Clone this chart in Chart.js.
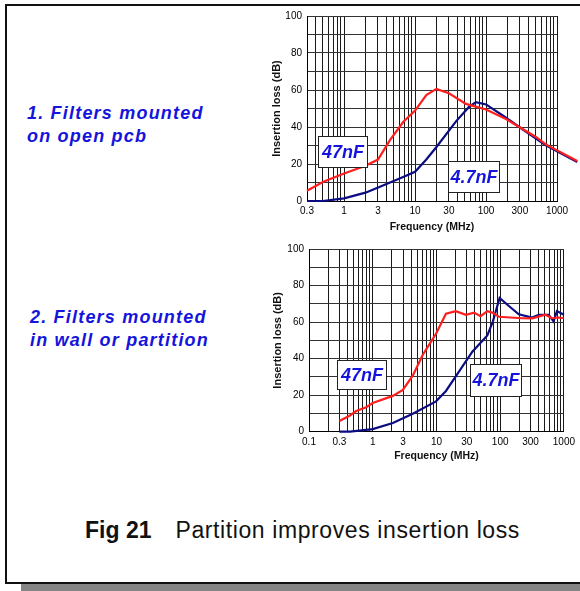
<!DOCTYPE html>
<html>
<head>
<meta charset="utf-8">
<script src="https://cdn.jsdelivr.net/npm/chart.js@4/dist/chart.umd.min.js"></script>
<style>
  body { margin: 0; width: 580px; height: 591px; overflow: hidden; position: relative; background: #fff;
         font-family: "Liberation Sans", Arial, sans-serif; }
  #frame { position: absolute; left: 5px; top: 4px; width: 640px; height: 580px; box-sizing: border-box;
           border: 2px solid #111; }
  #shadow { position: absolute; left: 21px; top: 584px; width: 600px; height: 7px; background: #858585; }
  .note { position: absolute; color: #1414dc; font-weight: bold; font-style: italic; font-size: 18px;
          line-height: 23px; letter-spacing: 1.2px; white-space: nowrap; }
  #caption { position: absolute; left: 85px; top: 519px; font-size: 23px; line-height: 22px; color: #111; white-space: nowrap; }
  #caption b { margin-right: 24px; }
  #caption span { letter-spacing: 0.6px; }
  canvas { position: absolute; }
</style>
</head>
<body>
<div id="frame"></div>
<div id="shadow"></div>
<div class="note" style="left:27px;top:102px">1. Filters mounted<br>on open pcb</div>
<div class="note" style="left:30px;top:306px">2. Filters mounted<br>in wall or partition</div>
<div id="caption"><b>Fig 21</b><span>Partition improves insertion loss</span></div>
<canvas id="topChart" width="310" height="230" style="left:270px;top:5px"></canvas>
<canvas id="botChart" width="310" height="230" style="left:270px;top:238px"></canvas>
<script>
// 1. filters mounted on open pcb (curves run on past 1000 MHz, off the right edge)
var topFreq47 = [0.3, 0.51, 1, 2, 3, 4.4, 6.8, 10, 14.4, 20, 30, 52, 100, 191, 294, 505, 695, 1930];
var topLoss47 = [5.5, 10.4, 14.9, 19, 22.4, 32.8, 42.7, 48.9, 57.3, 60.6, 58.2, 52.5, 49.5, 44.3, 40, 34.6, 30.6, 21.6];
var topFreq4n7 = [0.3, 0.5, 1, 2, 3.2, 6.8, 10, 14.4, 20, 38, 58, 72, 100, 172, 294, 505, 695, 1930];
var topLoss4n7 = [0, 0, 1.4, 4.5, 7.7, 13, 15.8, 22.4, 29.2, 43.2, 51, 53.4, 52.2, 46.2, 40, 33.7, 30.1, 21.1];

// 2. filters mounted in wall or partition
var botFreq47 = [0.3, 0.44, 0.55, 0.79, 1, 2.07, 2.97, 4.25, 6.08, 9.85, 14.1, 20.1, 28.9, 38.9, 49.4, 62.9, 75.2, 95.6, 221, 317, 511, 650, 826, 1000];
var botLoss47 = [5.9, 8.9, 11.3, 13.4, 15.7, 19.6, 22.9, 30.7, 42, 53.6, 64.6, 66, 64, 65.2, 63.2, 66, 65.2, 62.9, 62.1, 62, 64, 62.1, 62.5, 62.1];
var botFreq4n7 = [0.3, 0.44, 1, 2.07, 4.25, 9.85, 14.1, 22.7, 36.6, 62.9, 77, 98, 137, 196, 317, 403, 577, 690, 778, 1000];
var botLoss4n7 = [0, 0, 1.4, 4.8, 9.8, 16.6, 22.3, 33, 43.8, 52.7, 60.4, 73.2, 68.8, 64.3, 62.5, 64, 64, 60.4, 66, 64];

var topTicks = ["0.3", "1", "3", "10", "30", "100", "300", "1000"];
var botTicks = ["0.1", "0.3", "1", "3", "10", "30", "100", "300", "1000"];
var yTicks = [0, 20, 40, 60, 80, 100];

function pts(xs, ys) {
  return xs.map(function (x, i) { return { x: x, y: ys[i] }; });
}

// grid lines at every 1..9 x 10^n between min and max
function logGrid(min, max) {
  var out = [];
  for (var e = -1; e <= 3; e++) {
    for (var m = 1; m <= 9; m++) {
      var v = Number((m * Math.pow(10, e)).toPrecision(6));
      if (v >= min - 1e-9 && v <= max + 1e-9) out.push(v);
    }
  }
  return out;
}

var noteBoxes = {
  id: "noteBoxes",
  afterDatasetsDraw: function (chart, args, opts) {
    var ctx = chart.ctx, xs = chart.scales.x, ys = chart.scales.y;
    ctx.save();
    (opts.notes || []).forEach(function (n) {
      var x1 = Math.round(xs.getPixelForValue(n.x1)) + 0.5;
      var x2 = Math.round(xs.getPixelForValue(n.x2)) + 0.5;
      var y1 = Math.round(ys.getPixelForValue(n.y1)) + 0.5;
      var y2 = Math.round(ys.getPixelForValue(n.y2)) + 0.5;
      ctx.fillStyle = "#fff";
      ctx.fillRect(x1, y1, x2 - x1, y2 - y1);
      ctx.strokeStyle = "#222";
      ctx.lineWidth = 1;
      ctx.strokeRect(x1, y1, x2 - x1, y2 - y1);
      ctx.fillStyle = "#1414dc";
      ctx.font = "italic bold 18px 'Liberation Sans', Arial, sans-serif";
      ctx.textAlign = "center";
      ctx.textBaseline = "middle";
      ctx.fillText(n.text, (x1 + x2) / 2, (y1 + y2) / 2 + 1);
    });
    ctx.restore();
  }
};

function makeChart(id, f47, l47, f4n7, l4n7, xMin, tickText, geo, notes) {
  var tickVals = tickText.map(Number);
  return new Chart(document.getElementById(id), {
    type: "scatter",
    data: {
      datasets: [
        { label: "47nF", data: pts(f47, l47), showLine: true, borderColor: "#ff1e1e", borderWidth: 2.2,
          pointRadius: 0, clip: false },
        { label: "4.7nF", data: pts(f4n7, l4n7), showLine: true, borderColor: "#0c0c82", borderWidth: 2.2,
          pointRadius: 0, clip: false }
      ]
    },
    plugins: [noteBoxes],
    options: {
      responsive: false,
      animation: false,
      layout: { padding: { top: geo.top, right: geo.right, left: 0, bottom: 0 } },
      plugins: { legend: { display: false }, tooltip: { enabled: false }, noteBoxes: { notes: notes } },
      scales: {
        x: {
          type: "logarithmic", min: xMin, max: 1000,
          afterBuildTicks: function (s) { s.ticks = logGrid(xMin, 1000).map(function (v) { return { value: v }; }); },
          afterFit: function (s) { s.height = geo.xh; },
          grid: { color: "#1a1a1a", lineWidth: 1, drawTicks: false },
          border: { color: "#000", width: 1 },
          ticks: {
            autoSkip: false, maxRotation: 0, minRotation: 0, padding: geo.xpad, color: "#000",
            font: { size: 10, family: "'Liberation Sans', Arial" },
            callback: function (v) {
              for (var i = 0; i < tickVals.length; i++) {
                if (Math.abs(tickVals[i] - v) < tickVals[i] * 1e-6) return tickText[i];
              }
              return "";
            }
          },
          title: { display: true, text: "Frequency (MHz)", color: "#111",
                   font: { size: 10.5, weight: "bold", family: "'Liberation Sans', Arial" },
                   padding: { top: 0, bottom: geo.xtpad } }
        },
        y: {
          min: 0, max: 100,
          afterFit: function (s) { s.width = geo.yw; },
          grid: { color: "#333", lineWidth: 1, drawTicks: false },
          border: { color: "#000", width: 1 },
          ticks: {
            stepSize: 10, padding: 5, color: "#000",
            font: { size: 10, family: "'Liberation Sans', Arial" },
            callback: function (v) { return yTicks.indexOf(v) >= 0 ? String(v) : ""; }
          },
          title: { display: true, text: "Insertion loss (dB)", color: "#111",
                   font: { size: 11, weight: "bold", family: "'Liberation Sans', Arial" },
                   padding: { top: geo.ytpad, bottom: 0 } }
        }
      }
    }
  });
}

makeChart("topChart", topFreq47, topLoss47, topFreq4n7, topLoss4n7, 0.3, topTicks,
  { top: 10, right: 23, xh: 34, yw: 37, xpad: 4, xtpad: 2, ytpad: 0 },
  [{ text: "47nF", x1: 0.428, x2: 2.1, y1: 35.1, y2: 18.4 },
   { text: "4.7nF", x1: 29.3, x2: 153, y1: 21.5, y2: 4.8 }]);

makeChart("botChart", botFreq47, botLoss47, botFreq4n7, botLoss4n7, 0.1, botTicks,
  { top: 7, right: 15, xh: 36.3, yw: 39, xpad: 5, xtpad: 6, ytpad: 1 },
  [{ text: "47nF", x1: 0.274, x2: 1.64, y1: 39.5, y2: 23.4 },
   { text: "4.7nF", x1: 34, x2: 209, y1: 37, y2: 19.3 }]);
</script>
</body>
</html>
